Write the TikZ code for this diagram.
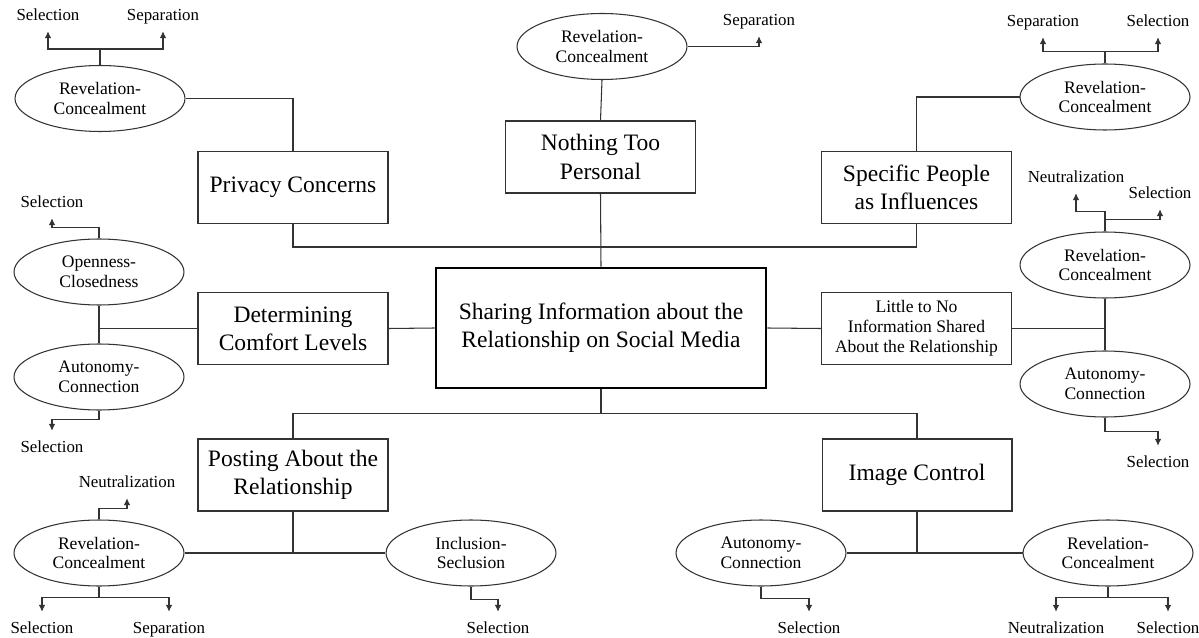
\documentclass[tikz,border=0pt]{standalone}
\usepackage{fontspec}
\setmainfont{Liberation Serif}
\usetikzlibrary{shapes.geometric,arrows.meta,calc}

\tikzset{
    topic/.style={draw=black!80, line width=0.6pt, minimum width=3.8cm, minimum height=1.44cm,
        inner sep=0pt, align=center, font=\fontsize{13.4}{16}\selectfont},
    core/.style={topic, line width=1.6pt, draw=black, minimum width=6.6cm, minimum height=2.4cm},
    dialect/.style={draw=black!80, line width=0.6pt, ellipse, minimum width=3.4cm, minimum height=1.32cm,
        inner sep=0pt, align=center, font=\fontsize{10}{11.3}\selectfont},
    lbl/.style={inner xsep=1pt, inner ysep=5pt, text height=1.5ex, text depth=.25ex,
        font=\fontsize{9.6}{11}\selectfont},
    link/.style={draw=black!80, line width=0.6pt},
    arr/.style={link, -{Latex[length=4pt,width=3.8pt]}}
}

\begin{document}
\begin{tikzpicture}[x=0.02cm, y=-0.02cm]
    \useasboundingbox (0,0) rectangle (1199,638);

    \node[core] (share) at (601,328) {Sharing Information about the\\Relationship on Social Media};

    \node[topic] (privacy)  at (293,187.5) {Privacy Concerns};
    \node[topic] (nothing)  at (600.5,157) {Nothing Too\\Personal};
    \node[topic] (specific) at (916.5,187.5) {Specific People\\as Influences};
    \node[topic] (comfort)  at (293,328.5) {Determining\\Comfort Levels};
    \node[topic, font=\fontsize{10}{11.3}\selectfont] (little) at (916.5,328.5) {Little to No\\Information Shared\\About the Relationship};
    \node[topic] (posting)  at (293,475) {Posting About the\\Relationship};
    \node[topic] (image)    at (917,475) {Image Control};

    \node[dialect] (rcA) at (100,98.5) {Revelation-\\Concealment};
    \node[dialect] (rcB) at (602,46.5) {Revelation-\\Concealment};
    \node[dialect] (rcC) at (1105,97) {Revelation-\\Concealment};
    \node[dialect] (ocL) at (99,272) {Openness-\\Closedness};
    \node[dialect] (acL) at (99,377) {Autonomy-\\Connection};
    \node[dialect] (rcR) at (1105,265) {Revelation-\\Concealment};
    \node[dialect] (acR) at (1105,384) {Autonomy-\\Connection};
    \node[dialect] (rcP) at (99,553) {Revelation-\\Concealment};
    \node[dialect] (isP) at (471,553) {Inclusion-\\Seclusion};
    \node[dialect] (acI) at (761,553) {Autonomy-\\Connection};
    \node[dialect] (rcI) at (1108,553) {Revelation-\\Concealment};

    % outcomes
    \node[lbl] (selA)  at (48,15) {Selection};
    \node[lbl] (sepA)  at (163,15) {Separation};
    \node[lbl] (sepB)  at (759,20) {Separation};
    \node[lbl] (sepC)  at (1043,21) {Separation};
    \node[lbl] (selC)  at (1158,21) {Selection};
    \node[lbl] (neuR)  at (1076,177) {Neutralization};
    \node[lbl] (selR)  at (1160,193) {Selection};
    \node[lbl] (selO)  at (52,202) {Selection};
    \node[lbl] (selAl) at (52,447) {Selection};
    \node[lbl] (selAr) at (1158,462) {Selection};
    \node[lbl] (neuP)  at (127,482) {Neutralization};
    \node[lbl] (selP)  at (42,628) {Selection};
    \node[lbl] (sepP)  at (169,628) {Separation};
    \node[lbl] (selI)  at (498,628) {Selection};
    \node[lbl] (selAI) at (809,628) {Selection};
    \node[lbl] (neuI)  at (1056,628) {Neutralization};
    \node[lbl] (selI2) at (1168,628) {Selection};

    % top
    \draw[link] (nothing.south) -- (share.north);
    \draw[link] (privacy.south) -- ++(0,23) -| (specific.south);
    \draw[link] (privacy.north) |- (rcA.east);
    \draw[link] (nothing.north) -- (rcB.south);
    \draw[link] (specific.north) |- (rcC.west);

    % sides
    \draw[link] (share.west) -- (comfort.east);
    \draw[link] (share.east) -- (little.west);
    \draw[link] (ocL.south) -- (acL.north);
    \draw[link] (comfort.west) -- (comfort.west -| ocL.south);
    \draw[link] (rcR.south) -- (acR.north);
    \draw[link] (little.east) -- (little.east -| rcR.south);

    % bottom
    \draw[link] (share.south) -- ++(0,24) coordinate (bar);
    \draw[link] (posting.north) |- (bar) -| (image.north);
    \draw[link] (rcP.east) -- (isP.west);
    \draw[link] (posting.south) -- (posting.south |- rcP.east);
    \draw[link] (acI.east) -- (rcI.west);
    \draw[link] (image.south) -- (image.south |- acI.east);

    % dialectic outcomes
    \draw[link] (rcA.north) -- ++(0,-16) coordinate (jA);
    \draw[arr] (jA) -| (selA);
    \draw[arr] (jA) -| (sepA);
    \draw[arr] (rcB.east) -| (sepB);
    \draw[link] (rcC.north) -- ++(0,-12) coordinate (jC);
    \draw[arr] (jC) -| (sepC);
    \draw[arr] (jC) -| (selC);
    \draw[arr] (rcR.north) -- ++(0,-20) -| (neuR);
    \draw[arr] ($(rcR.north)+(0,-12)$) -| (selR);
    \draw[arr] (ocL.north) -- ++(0,-11) -| (selO);
    \draw[arr] (acL.south) -- ++(0,9) -| (selAl);
    \draw[arr] (acR.south) -- ++(0,14) -| (selAr);
    \draw[arr] (rcP.north) -- ++(0,-11) -| (neuP);
    \draw[link] (rcP.south) -- ++(0,11) coordinate (jP);
    \draw[arr] (jP) -| (selP);
    \draw[arr] (jP) -| (sepP);
    \draw[arr] (isP.south) -- ++(0,13) -| (selI);
    \draw[arr] (acI.south) -- ++(0,12) -| (selAI);
    \draw[link] (rcI.south) -- ++(0,11) coordinate (jI);
    \draw[arr] (jI) -| (neuI);
    \draw[arr] (jI) -| (selI2);
\end{tikzpicture}
\end{document}
